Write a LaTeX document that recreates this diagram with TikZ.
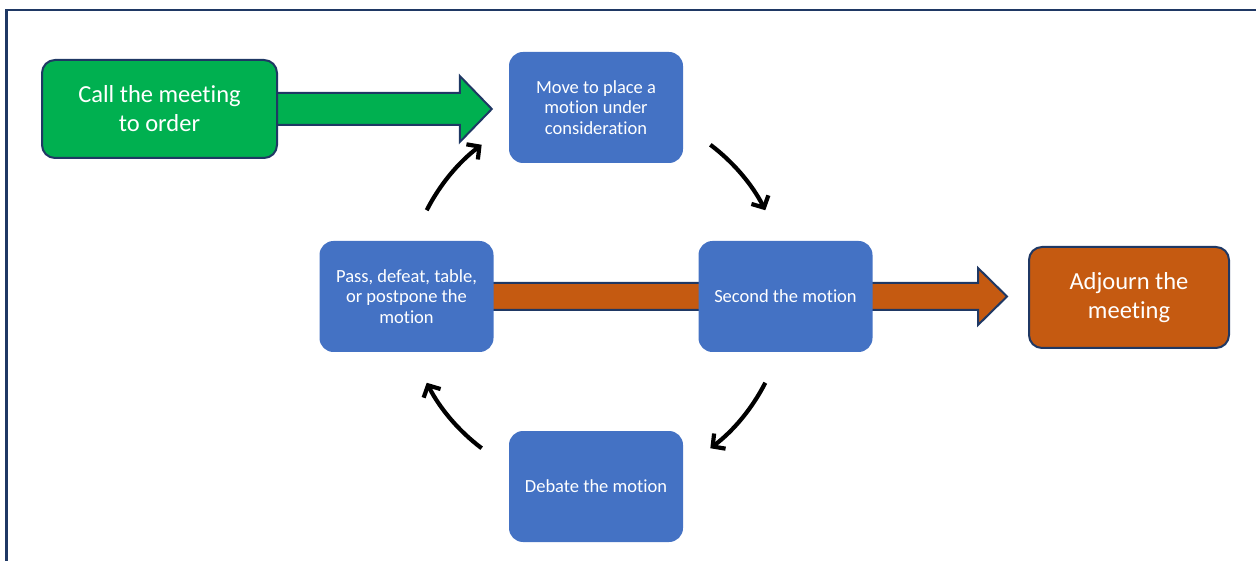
\documentclass[tikz,border=0pt]{standalone}
\usepackage{fontspec}
\setmainfont{Carlito}[Ligatures=NoCommon]
\usetikzlibrary{arrows.meta,positioning,calc,backgrounds}
\definecolor{navy}{HTML}{1F3864}
\definecolor{stepblue}{HTML}{4472C4}
\definecolor{startgreen}{HTML}{00B050}
\definecolor{endorange}{HTML}{C55A11}
\tikzset{stepbox/.style={rounded corners=14, fill=stepblue, text=white, minimum width=174, minimum height=111, inner sep=0, align=center, font=\fontsize{18.5}{20.5}\selectfont}}
\tikzset{endbox/.style={rounded corners=13, draw=navy, line width=2, text=white, inner sep=0, align=center, font=\fontsize{24.5}{29}\selectfont}}
\tikzset{cyc/.style={draw, line width=4.2, -{Straight Barb[length=9pt, width=19pt]}}}
\tikzset{blockedge/.style={draw=navy, line width=2, line join=miter}}
\newcommand\blockarr[6]{
		\filldraw[blockedge, fill=#6] ($(#1)+(0,-#3)$) -- ($(#2)+(-#5,-#3)$) -- ($(#2)+(-#5,-#4)$) -- (#2)
			-- ($(#2)+(-#5,#4)$) -- ($(#2)+(-#5,#3)$) -- ($(#1)+(0,#3)$) -- cycle;
	}

\begin{document}
\begin{tikzpicture}[x=1pt, y=-1pt]
                \useasboundingbox (0,0) rectangle (1256,561);
                \draw[navy, line width=2.5] (6.5,561) -- (6.5,10) -- (1256,10);

                \node[endbox, fill=startgreen, minimum width=235, minimum height=98] (call) at (159.5,109) {Call the meeting\\to order};
                \node[stepbox] (move) at (596,107.5) {Move to place a\\motion under\\consideration};
                \node[stepbox] (pass) at (406.5,296.5) {Pass, defeat, table,\\or postpone the\\motion};
                \node[stepbox] (second) at (785.5,296.5) {Second the motion};
                \node[stepbox] (debate) at (596,486.5) {Debate the motion};
                \node[endbox, fill=endorange, minimum width=200, minimum height=101] (adjourn) at (1129,297.5) {Adjourn the\\meeting};

                \coordinate (gtip) at ($(call.center -| move.west)+(-17,0)$);
                \coordinate (otip) at ($(pass.center -| adjourn.west)+(-21,0)$);
                \coordinate (hub) at (move |- second);
                \begin{scope}[on background layer]
                \blockarr{call.center}{gtip}{16}{33}{32}{startgreen}
                \blockarr{pass.center}{otip}{13.5}{28.5}{29}{endorange}
                \end{scope}

                % cycle round the four steps
                \foreach \a in {153,53,-27,-127}
                    \draw[cyc] ($(hub)+(\a:190pt)$) arc[start angle=\a, delta angle=-26, radius=190pt];
            \end{tikzpicture}
\end{document}
